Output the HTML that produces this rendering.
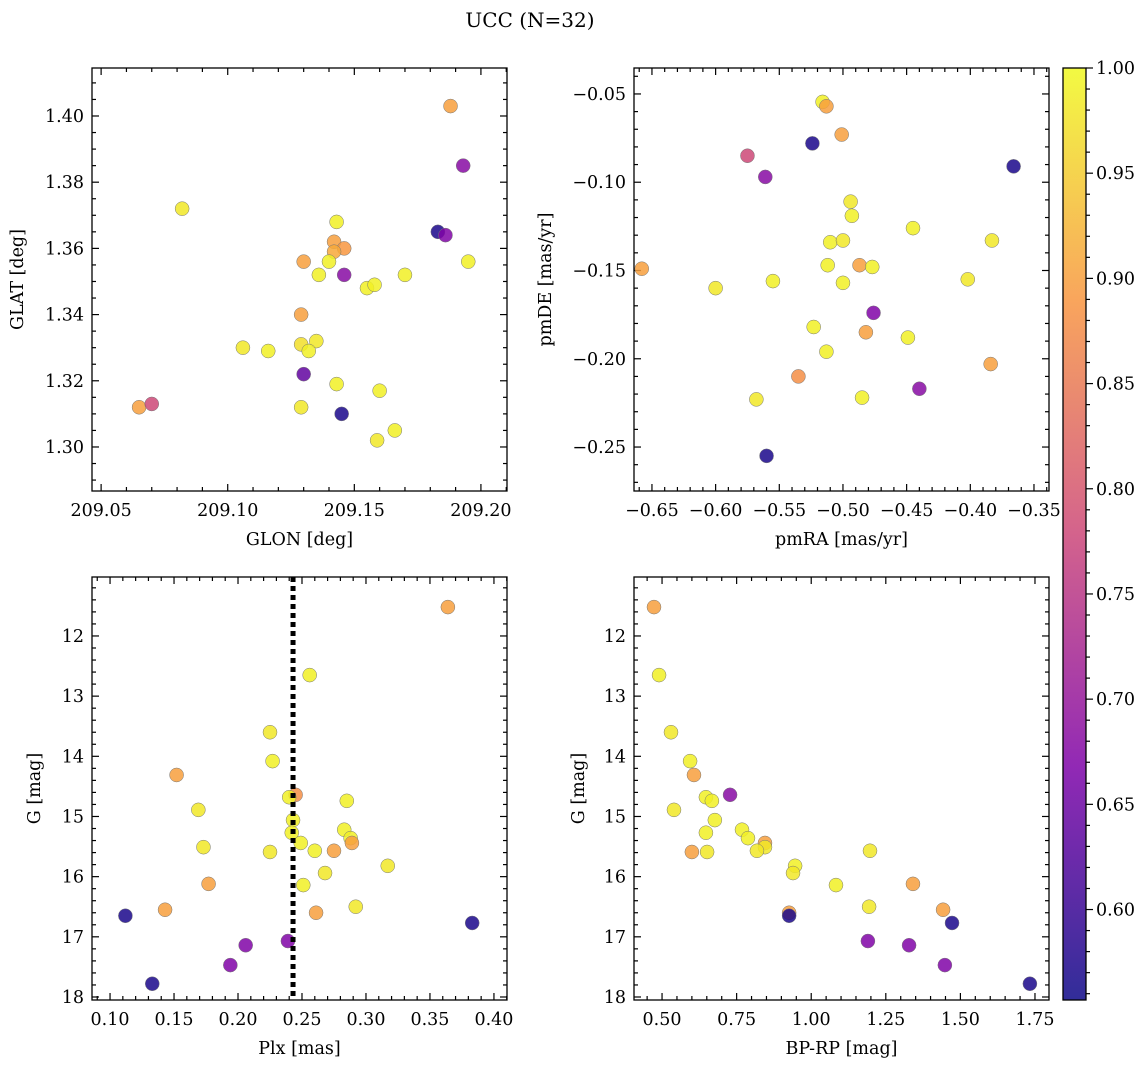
<!DOCTYPE html>
<html><head><meta charset="utf-8">
<style>
body{margin:0;background:#fff;}
svg text{font-family:"DejaVu Serif","Liberation Serif",serif;fill:#000;}
</style></head>
<body>
<svg id="fig" width="1148" height="1067" xmlns="http://www.w3.org/2000/svg">
<text x="530" y="27" font-size="20" text-anchor="middle">UCC (N=32)</text>
</svg>
<script>
// ---- data ----
const tlGlon=[209.188,209.193,209.082,209.143,209.183,209.186,209.142,209.146,209.142,209.130,209.140,209.195,209.136,209.146,209.170,209.155,209.158,209.129,209.129,209.135,209.132,209.106,209.116,209.130,209.143,209.160,209.129,209.145,209.065,209.070,209.166,209.159];
const tlGlat=[1.403,1.385,1.372,1.368,1.365,1.364,1.362,1.360,1.359,1.356,1.356,1.356,1.352,1.352,1.352,1.348,1.349,1.340,1.331,1.332,1.329,1.330,1.329,1.322,1.319,1.317,1.312,1.310,1.312,1.313,1.305,1.302];
const tlProb=[0.90,0.68,0.98,0.99,0.57,0.67,0.90,0.89,0.91,0.90,0.99,0.99,0.99,0.68,0.99,0.99,0.99,0.90,0.97,0.98,0.99,0.98,0.99,0.64,0.99,0.99,0.98,0.57,0.90,0.78,0.99,0.98];
const trPmra=[-0.516,-0.513,-0.501,-0.575,-0.524,-0.366,-0.561,-0.494,-0.493,-0.510,-0.500,-0.445,-0.383,-0.658,-0.600,-0.555,-0.512,-0.500,-0.487,-0.477,-0.402,-0.476,-0.523,-0.482,-0.449,-0.513,-0.384,-0.535,-0.440,-0.568,-0.485,-0.560];
const trPmde=[-0.0545,-0.057,-0.073,-0.085,-0.078,-0.091,-0.097,-0.111,-0.119,-0.134,-0.133,-0.126,-0.133,-0.149,-0.160,-0.156,-0.147,-0.157,-0.147,-0.148,-0.155,-0.174,-0.182,-0.185,-0.188,-0.196,-0.203,-0.210,-0.217,-0.223,-0.222,-0.255];
const trProb=[0.99,0.90,0.90,0.78,0.57,0.57,0.68,0.98,0.99,0.99,0.98,0.99,0.98,0.90,0.98,0.99,0.99,0.99,0.90,0.99,0.98,0.67,0.99,0.90,0.99,0.99,0.90,0.88,0.68,0.98,0.99,0.57];
const blPlx=[0.364,0.256,0.225,0.227,0.152,0.169,0.245,0.240,0.285,0.243,0.242,0.249,0.283,0.288,0.289,0.173,0.225,0.260,0.275,0.317,0.268,0.251,0.177,0.143,0.292,0.261,0.112,0.383,0.206,0.239,0.194,0.133];
const blG=[11.52,12.65,13.60,14.08,14.31,14.89,14.64,14.68,14.74,15.06,15.27,15.44,15.22,15.36,15.44,15.51,15.59,15.57,15.57,15.82,15.94,16.14,16.12,16.55,16.50,16.60,16.65,16.77,17.14,17.07,17.47,17.78];
const blProb=[0.90,0.99,0.98,0.99,0.90,0.98,0.88,0.99,0.99,0.99,0.99,0.99,0.99,0.99,0.90,0.98,0.98,0.99,0.90,0.98,0.98,0.99,0.90,0.90,0.98,0.90,0.57,0.57,0.67,0.67,0.67,0.57];
const brBprp=[0.473,0.490,0.530,0.594,0.607,0.540,0.728,0.647,0.667,0.677,0.647,0.768,0.788,0.845,0.845,0.818,0.651,0.600,1.197,0.946,0.939,1.083,1.341,1.194,1.442,0.926,0.926,1.472,1.190,1.328,1.448,1.733];
const brG=[11.52,12.65,13.60,14.08,14.31,14.89,14.64,14.68,14.74,15.06,15.27,15.22,15.36,15.44,15.51,15.57,15.59,15.59,15.57,15.82,15.94,16.14,16.12,16.50,16.55,16.60,16.65,16.77,17.07,17.14,17.47,17.78];
const brProb=[0.90,0.99,0.98,0.99,0.90,0.98,0.68,0.99,0.99,0.99,0.99,0.99,0.99,0.90,0.98,0.98,0.98,0.90,0.98,0.99,0.98,0.99,0.90,0.98,0.90,0.90,0.57,0.57,0.67,0.67,0.67,0.57];
const plxMean=0.243;
const cbTicks=[0.60,0.65,0.70,0.75,0.80,0.85,0.90,0.95,1.00];
const PMIN=0.557,PMAX=1.0;

const NS="http://www.w3.org/2000/svg";
const svg=document.getElementById('fig');
const FS=17.5;
function el(tag,attrs,parent){const e=document.createElementNS(NS,tag);for(const k in attrs)e.setAttribute(k,attrs[k]);(parent||svg).appendChild(e);return e;}
const stops=[[0,[13,8,135]],[0.25,[126,3,168]],[0.5,[204,71,120]],[0.75,[248,149,64]],[1,[240,249,33]]];
function plasma(t){t=Math.max(0,Math.min(1,t));for(let i=1;i<stops.length;i++){if(t<=stops[i][0]){const a=stops[i-1],b=stops[i];const f=(t-a[0])/(b[0]-a[0]);const c=a[1].map((v,j)=>Math.round(v+(b[1][j]-v)*f));return `rgb(${c[0]},${c[1]},${c[2]})`;}}return 'rgb(240,249,33)';}
function fmt(v,d){const s=Math.abs(v).toFixed(d);return (v<-1e-9?'\u2212':'')+s;}

function panel(o){
  const g=el('g',{});
  
  
  const L=o.x0,R=o.x1,T=o.y0,B=o.y1;
  const sx=v=>L+(v-o.xmin)/(o.xmax-o.xmin)*(R-L);
  const sy=o.yinv?(v=>T+(v-o.ymin)/(o.ymax-o.ymin)*(B-T)):(v=>B-(v-o.ymin)/(o.ymax-o.ymin)*(B-T));
  const tk=el('g',{stroke:'#000','stroke-width':1.2},g);
  
  
  const eps=1e-9;
  for(let v=Math.ceil(o.xmin/o.xminor-eps)*o.xminor;v<=o.xmax+eps;v+=o.xminor){const px=sx(v);const maj=Math.abs(v/o.xmajor-Math.round(v/o.xmajor))<1e-6;const l=maj?7:4;
    el('line',{x1:px,x2:px,y1:B,y2:B-l},tk);el('line',{x1:px,x2:px,y1:T,y2:T+l},tk);
    if(maj){const t=el('text',{x:px,y:B+25,'font-size':FS,'text-anchor':'middle'},g);t.textContent=fmt(Math.round(v/o.xmajor)*o.xmajor,o.xdec);}}
  for(let v=Math.ceil(o.ymin/o.yminor-eps)*o.yminor;v<=o.ymax+eps;v+=o.yminor){const py=sy(v);const maj=Math.abs(v/o.ymajor-Math.round(v/o.ymajor))<1e-6;const l=maj?7:4;
    el('line',{x1:L,x2:L+l,y1:py,y2:py},tk);el('line',{x1:R,x2:R-l,y1:py,y2:py},tk);
    if(maj){const t=el('text',{x:L-8,y:py+6,'font-size':FS,'text-anchor':'end'},g);t.textContent=fmt(Math.round(v/o.ymajor)*o.ymajor,o.ydec);}}
  const pts=el('g',{},g);
  
  
  o.xs.forEach((xv,i)=>{const c=el('circle',{cx:sx(xv),cy:sy(o.ys[i]),r:7,fill:plasma((o.ps[i]-PMIN)/(PMAX-PMIN)),'fill-opacity':0.85,stroke:'#777','stroke-width':0.5},pts);
    
    });
  if(o.vline!==undefined){const ln=el('line',{x1:sx(o.vline),x2:sx(o.vline),y1:T,y2:B,stroke:'#000','stroke-width':5,'stroke-dasharray':'5 4'},g);
    
    }
  const fr=el('rect',{x:L,y:T,width:R-L,height:B-T,fill:'none',stroke:'#000','stroke-width':1.3},g);
  
  
  const xl=el('text',{x:(L+R)/2,y:B+54,'font-size':FS,'text-anchor':'middle'},g);xl.textContent=o.xlabel;
  
  
  const yl=el('text',{x:0,y:0,'font-size':FS,'text-anchor':'middle',transform:`translate(${o.ylx},${(T+B)/2}) rotate(-90)`},g);yl.textContent=o.ylabel;
  
  
}
panel({name:'glon-glat-panel',x0:92,x1:507,y0:68,y1:491,xmin:209.0464,xmax:209.2103,ymin:1.2867,ymax:1.4145,xmajor:0.05,xminor:0.01,ymajor:0.02,yminor:0.005,xdec:2,ydec:2,xs:tlGlon,ys:tlGlat,ps:tlProb,xlabel:'GLON [deg]',ylabel:'GLAT [deg]',ylx:23});
panel({name:'pm-panel',x0:634,x1:1049,y0:68,y1:491,xmin:-0.6641,xmax:-0.3382,ymin:-0.2749,ymax:-0.0353,xmajor:0.05,xminor:0.01,ymajor:0.05,yminor:0.01,xdec:2,ydec:2,xs:trPmra,ys:trPmde,ps:trProb,xlabel:'pmRA [mas/yr]',ylabel:'pmDE [mas/yr]',ylx:551});
panel({name:'plx-g-panel',x0:92,x1:507,y0:577,y1:1000,xmin:0.0859,xmax:0.4102,ymin:11.02,ymax:18.05,yinv:true,xmajor:0.05,xminor:0.01,ymajor:1,yminor:0.2,xdec:2,ydec:0,xs:blPlx,ys:blG,ps:blProb,xlabel:'Plx [mas]',ylabel:'G [mag]',ylx:40,vline:plxMean});
panel({name:'cmd-panel',x0:634,x1:1049,y0:577,y1:1000,xmin:0.406,xmax:1.797,ymin:11.02,ymax:18.05,yinv:true,xmajor:0.25,xminor:0.05,ymajor:1,yminor:0.2,xdec:2,ydec:0,xs:brBprp,ys:brG,ps:brProb,xlabel:'BP-RP [mag]',ylabel:'G [mag]',ylx:584});

const cb=el('g',{});


const CL=1063,CR=1086,CT=68,CB=1000;
const defs=el('defs',{},cb);const grad=el('linearGradient',{id:'pg',x1:0,y1:1,x2:0,y2:0},defs);
for(let i=0;i<=20;i++){el('stop',{offset:i/20,'stop-color':plasma(i/20),'stop-opacity':0.85},grad);}
el('rect',{x:CL,y:CT,width:CR-CL,height:CB-CT,fill:'url(#pg)',stroke:'#000','stroke-width':1.3},cb);
const cy=v=>CB-(v-PMIN)/(PMAX-PMIN)*(CB-CT);
for(let v=0.56;v<=1.0001;v+=0.01){const y=cy(v);const maj=Math.abs(v*20-Math.round(v*20))<1e-6;el('line',{x1:CR,x2:CR+(maj?7:4),y1:y,y2:y,stroke:'#000','stroke-width':1.2},cb);}
cbTicks.forEach(v=>{const t=el('text',{x:CR+10,y:cy(v)+6,'font-size':FS},cb);t.textContent=v.toFixed(2);
  
  });
</script>
</body></html>
